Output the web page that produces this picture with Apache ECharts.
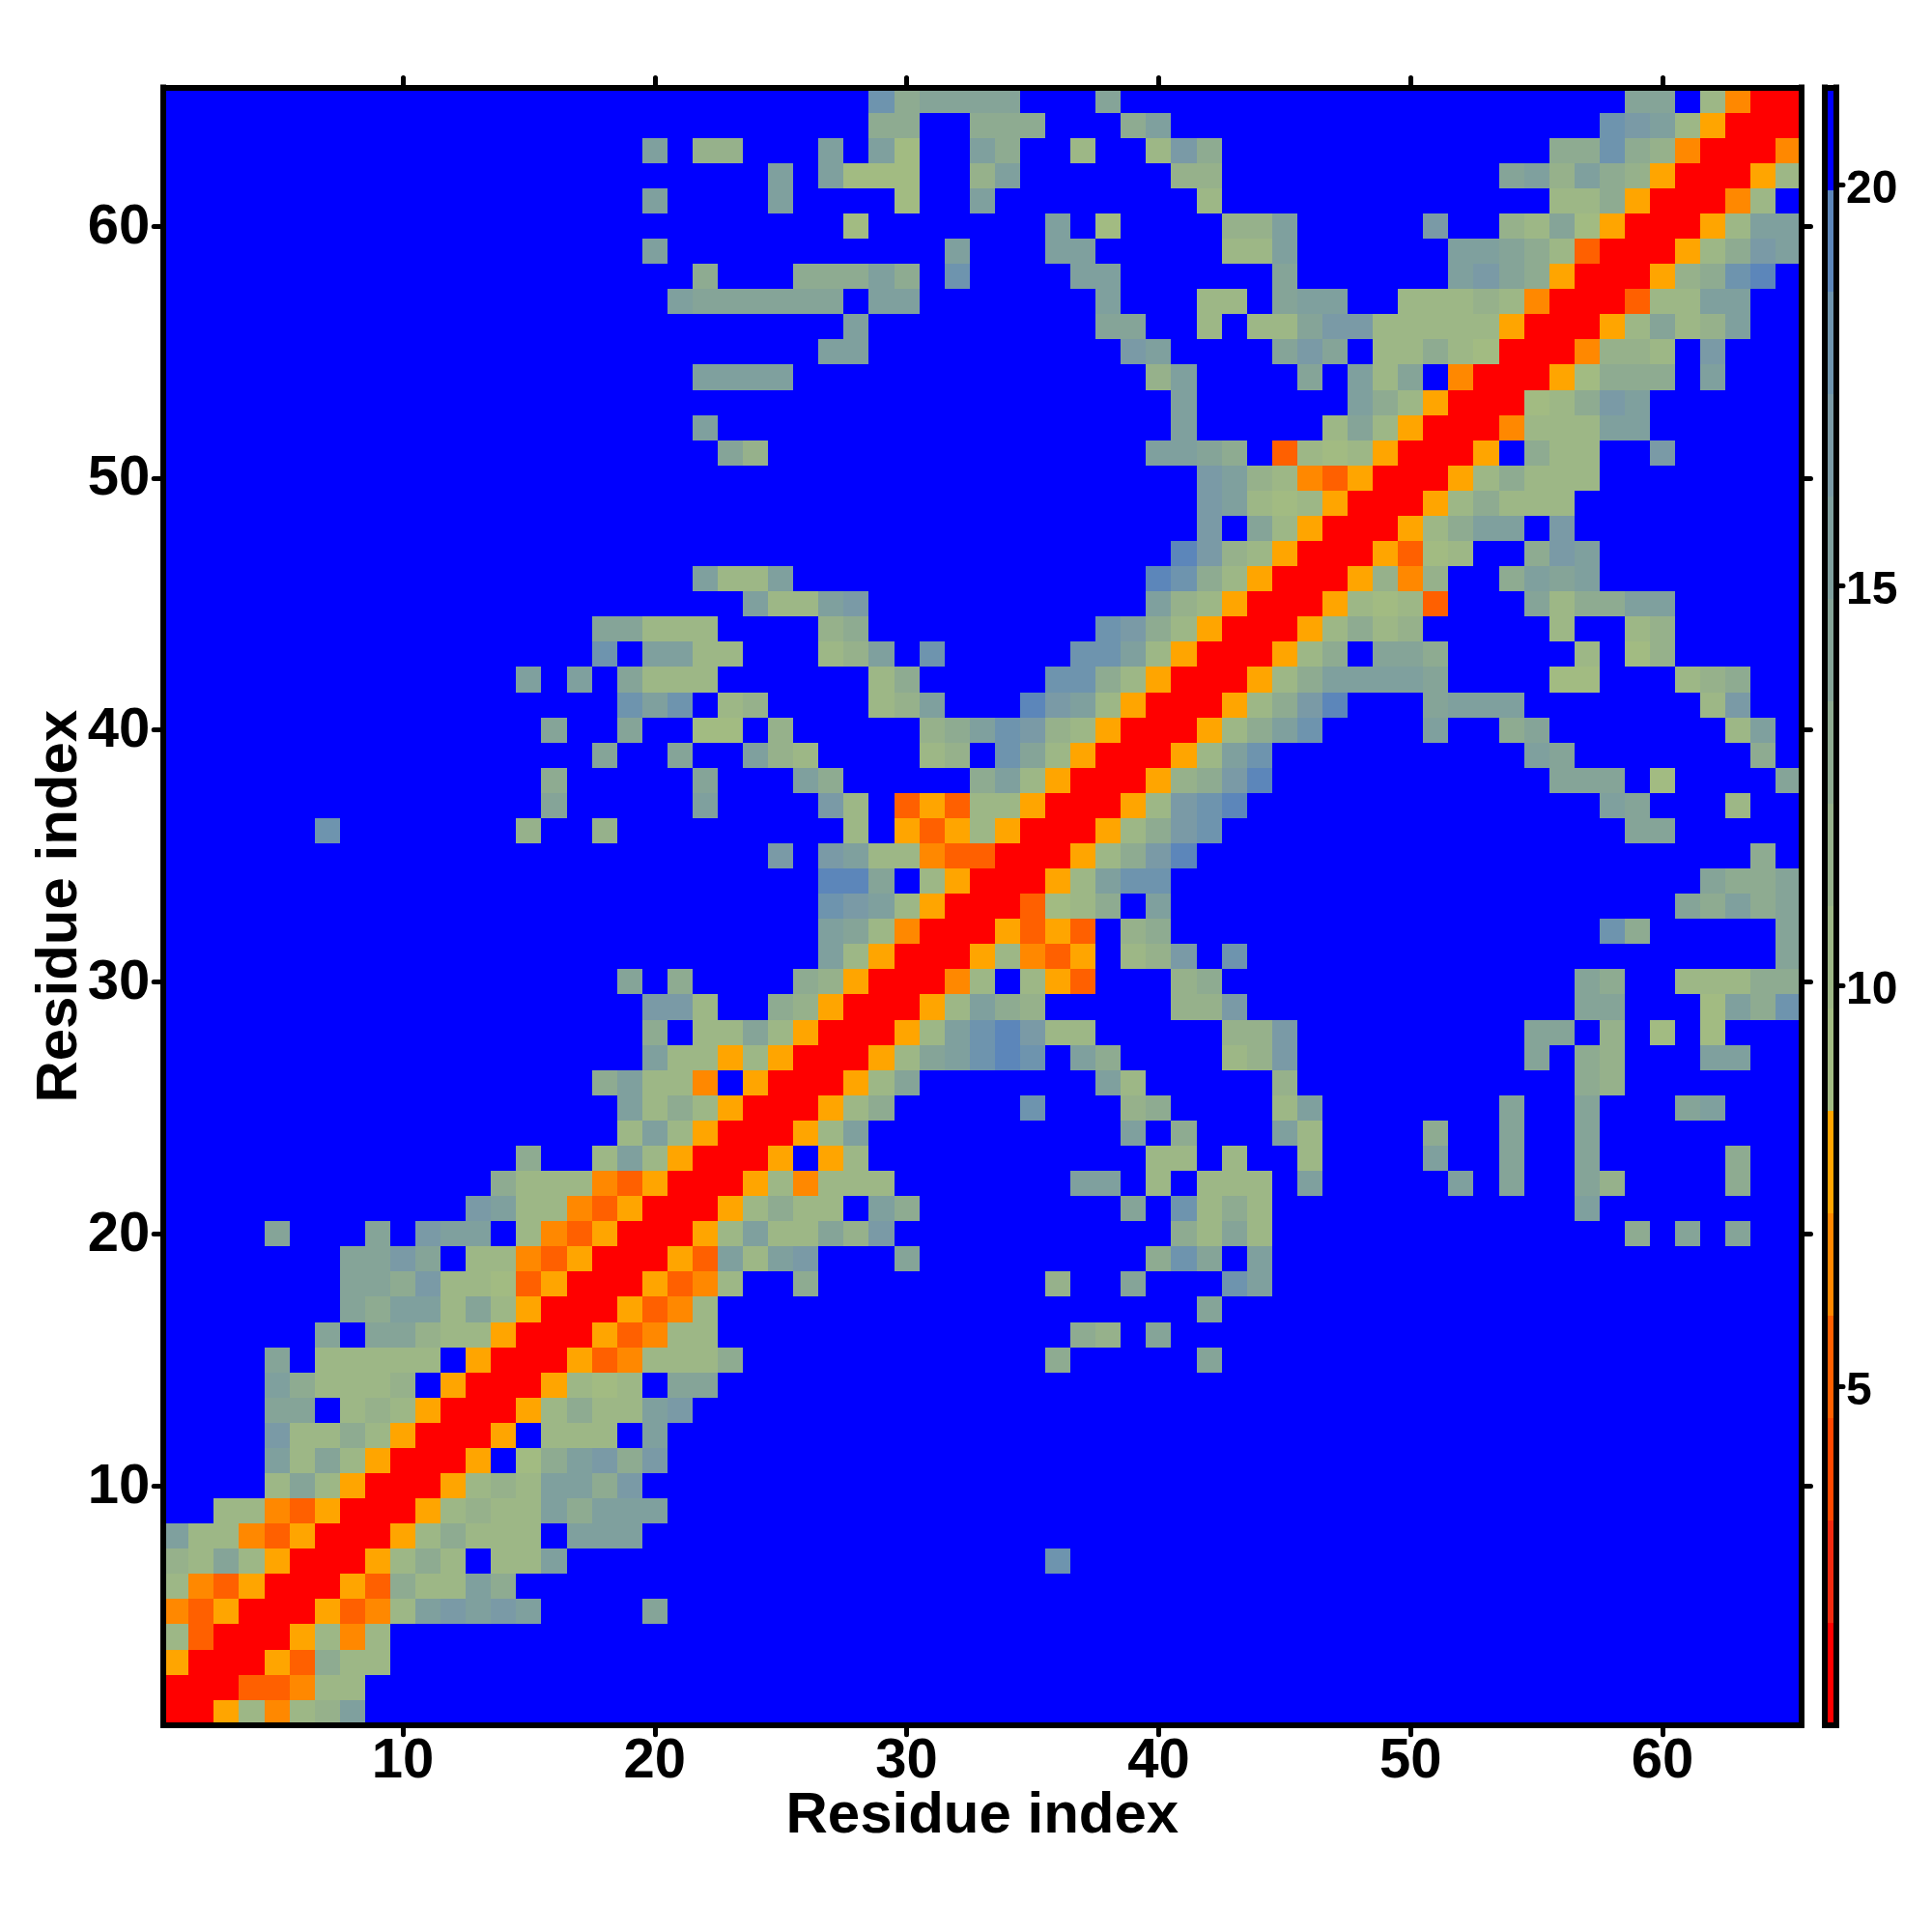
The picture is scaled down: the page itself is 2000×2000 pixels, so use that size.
<!DOCTYPE html>
<html><head><meta charset="utf-8">
<style>html,body{margin:0;padding:0;background:#fff}#c{width:2000px;height:2000px}</style>
<script src="https://cdn.jsdelivr.net/npm/echarts@6/dist/echarts.min.js"></script>
</head><body><div id="c"></div>
<script>
// Residue indices
const residues = Array.from({length:65},(_,i)=>String(i+1));
const tickEvery = 10;
const colorbarTicks = [5,10,15,20];
// Distance scale: 16 bins
const scaleMin = 0.77, scaleMax = 21.22;
const binColors = ['#ff0000','#f22a10','#ff4800','#ff6000','#ff8800','#ffa500',
  '#a2bb82','#9db786','#96b18b','#8eab91','#85a498','#7fa09e','#7a9aa6','#6e94ae','#5c86ba','#0000ff'];
// Cell characters: bin number per cell (1-9,a-f), '.' = beyond the last bin
const binChars = '123456789abcdef.';
// Rows from residue 65 (top) to residue 1 (bottom); groups of ten columns
const rowsTopDown = [
".......... .......... ........ea bbbb...b.. .......... ........bb .8511",
".......... .......... ........aa ..aaa...ac .......... .......edc 86111",
".......... .........c .99...c.c7 ..ca..8..8 da........ .....aaea9 51115",
".......... .......... ....c.c777 ..9c...... 99........ ...bc9ca96 11168",
".......... .........c ....c....7 ..c....... .8........ .....88a61 1158.",
".......... .......... .......7.. .....c.7.. ..99c..... d..98b7611 168cc",
".......... .........c .......... .c...cc... ..88c..... .ccba84111 68adc",
".......... .......... .a...aaaca .e....cc.. ....b..... .cdba61116 9aef.",
".......... .......... cbbbbbb.cc .......c.. .88.bcc..8 8898511148 8cc..",
".......... .......... .......c.. .......bb. .8.88bdd88 888611168b 89c..",
".......... .......... ......cc.. ........dc ....bdb.88 a871115998 .d...",
".......... .......... .cccc..... .........9 c....b.c8b .511167aaa .c...",
".......... .......... .......... .......... c......ca8 611178adc. .....",
".......... .......... .c........ .......... c.....8b86 1115888cc. .....",
".......... .......... ..b9...... .........c cba.487861 116.a88..d .....",
".......... .......... .......... .......... .dc9854611 168a888... .....",
".......... .......... .......... .......... .dc8786111 68a888.... .....",
".......... .......... .......... .......... .d.b861116 8acc.d.... .....",
".......... .......... .......... .......... fd98611164 78..adc... .....",
".......... .......... .c88c..... .........f ea86111695 9..acbc... .....",
".......... .......... ...c88cd.. .........c 9861116878 4...b8aacc .....",
".......... .......bb8 88....9a.. .......eda 8611168a89 .....8..89 .....",
".......... .......e.c c88...89c. e.....eec8 611168a.bb a.....8.79 .....",
".......... ....c.c.b8 88......8a .....eea86 11168acccc b....77... 89a..",
".......... ........ec e.89....89 c...fdc861 1168adf... bccc...... .8d..",
".......... .....b..b. .77.9..... 9aced98611 168ace.... c..ab..... ..8c.",
".......... .......b.. b..c98.... 89.eb86111 68ce...... ....cb.... ...a.",
".......... .....a.... .b...ca... ..ac861116 9adf...... .....bbb.7 ....b",
".......... .....b.... .c....d8.4 6488611168 def....... .......cb. ..8..",
"......e... ....9..9.. .......8.6 468611168a de........ ........bb .....",
".......... .......... ....d.dc88 54411168ad f......... .......... ...a.",
".......... .......... ......ffb. 8611168cee .......... .......... .baab",
".......... .......... ......edc8 6111478a.c .......... .......... bacab",
".......... .......... ......cb85 1116464.9a .......... .......ea. ....b",
".......... .......... ......c861 1168546.89 d.e....... .......... ....b",
".......... ........b. a....a9611 158.864... 9a........ ......ba.. 888aa",
".......... .........d d8..a96111 68ca9..... 99d....... ......bb.. .7cae",
".......... .........a .88b861116 8cefd88... ..99d..... ....bb.9.7 .7...",
".......... .........c 8868611168 bcefe.ca.. ..89d..... ....b.a9.. .cc..",
".......... .......ac8 85.611168b .......c8. ....9..... ......a9.. .....",
".......... ........c8 a8611168a. ....e...9a ....8c.... ...b..b... bc...",
".......... ........8c 8611168c.. ........c. a...c8.... a..b..b... .....",
".......... ....a..8c8 61116.68.. .........8 8.8..8.... c..b..b... ..a..",
".......... ...a888546 111685888. ......cc.8 .888.c.... .c.b..b9.. ..a..",
".......... ..dc885461 1168a88.ca ........b. e8a8...... ......c... .....",
"....b...b. dcc.854611 168c88b9d. .......... a8b8...... ........a. b.b..",
".......bbd b.88546111 64c8cd...b .........a eb.c...... .......... .....",
".......bba d887461116 458..a.... .....9..b. ..ec...... .......... .....",
".......bac c8b8611164 58........ .......... .b........ .......... .....",
"......b.bb 9886111645 88........ ......a9.b .......... .......... .....",
"....b.8888 8.61116458 88a....... .....a.... .b........ .......... .....",
"....ca8889 .61116878. bb........ .......... .......... .......... .....",
"....bb.898 611168a88c d......... .......... .......... .......... .....",
"....d88a86 1116.888.c .......... .......... .......... .......... .....",
"....c8b861 116.7acdad .......... .......... .......... .......... .....",
"....8b8611 16898ccad. .......... .......... .......... .......... .....",
"..88546111 68988caccc .......... .......... .......... .......... .....",
"c885461116 8a888.ccc. .......... .......... .......... .......... .....",
"98b8611168 a8.88c.... .......... .....e.... .......... .......... .....",
"854611164a 88ca...... .......... .......... .......... .......... .....",
"5461116458 cdcdc....b .......... .......... .......... .......... .....",
"841116858. .......... .......... .......... .......... .......... .....",
"611164a88. .......... .......... .......... .......... .......... .....",
"11144588.. .......... .......... .......... .......... .......... .....",
"1168589c.. .......... .......... .......... .......... .......... ....."
];

const binWidth = (scaleMax-scaleMin)/binColors.length;
const cells = [];
rowsTopDown.forEach((row,ri)=>{
  const y = rowsTopDown.length-1-ri;
  row.replace(/ /g,'').split('').forEach((ch,x)=>{
    const bin = binChars.indexOf(ch);
    cells.push([x,y,+(scaleMin+(bin+0.5)*binWidth).toFixed(2)]);
  });
});
const bins = binColors.map((c,i)=>[scaleMin+i*binWidth, scaleMin+(i+1)*binWidth, i]);

const font = '"Liberation Sans", Arial, sans-serif';
const black = '#000';
const frame = w => ({show:true,onZero:false,lineStyle:{color:black,width:w,cap:'square'}});
const isTick = (i,v)=> +v % tickEvery === 0;
const plotBox = {left:169.2, top:90.6, width:1695.3, height:1695.2};
const tick = {show:true,inside:false,length:10,alignWithLabel:true,interval:isTick,
  lineStyle:{color:black,width:5,cap:'round'}};
const bigLabel = {show:true,interval:isTick,color:black,fontFamily:font,fontWeight:'bold',fontSize:58};
const titleStyle = {color:black,fontFamily:font,fontWeight:'bold',fontSize:60};

const chart = echarts.init(document.getElementById('c'),null,{renderer:'canvas',width:2000,height:2000});
chart.setOption({
  animation:false,
  backgroundColor:'#fff',
  grid:[
    Object.assign({containLabel:false},plotBox),
    {left:1889, top:plotBox.top, width:12, height:plotBox.height, containLabel:false}
  ],
  xAxis:[
    {gridIndex:0,type:'category',data:residues,position:'bottom',z:10,axisLine:frame(6),axisTick:tick,
     axisLabel:Object.assign({margin:9},bigLabel),splitLine:{show:false},
     name:'Residue index',nameLocation:'middle',nameGap:65,nameMoveOverlap:false,nameTextStyle:titleStyle},
    {gridIndex:0,type:'category',data:residues,position:'top',z:10,axisLine:frame(6),axisTick:tick,
     axisLabel:{show:false},splitLine:{show:false}},
    {gridIndex:1,type:'value',min:0,max:1,position:'bottom',z:10,axisLine:frame(6),axisTick:{show:false},axisLabel:{show:false},splitLine:{show:false}},
    {gridIndex:1,type:'value',min:0,max:1,position:'top',z:10,axisLine:frame(6),axisTick:{show:false},axisLabel:{show:false},splitLine:{show:false}}
  ],
  yAxis:[
    {gridIndex:0,type:'category',data:residues,position:'left',z:10,axisLine:frame(6),axisTick:tick,
     axisLabel:Object.assign({margin:14,formatter:'{t|{value}}',rich:{t:{padding:[3,0,0,0],color:black,fontFamily:font,fontWeight:'bold',fontSize:58}}},bigLabel),splitLine:{show:false},
     name:'Residue index',nameLocation:'middle',nameGap:77,nameMoveOverlap:false,nameRotate:90,nameTextStyle:titleStyle},
    {gridIndex:0,type:'category',data:residues,position:'right',z:10,axisLine:frame(6),axisTick:tick,
     axisLabel:{show:false},splitLine:{show:false}},
    {gridIndex:1,type:'value',min:scaleMin,max:scaleMax,position:'right',z:10,axisLine:frame(6),
     axisTick:{show:true,length:7,customValues:colorbarTicks,lineStyle:{color:black,width:5,cap:'round'}},
     axisLabel:{show:true,customValues:colorbarTicks,margin:10,formatter:'{t|{value}}',
       rich:{t:{padding:[11,0,0,0],color:black,fontFamily:font,fontWeight:'bold',fontSize:48}},
       color:black,fontFamily:font,fontWeight:'bold',fontSize:48},
     splitLine:{show:false}},
    {gridIndex:1,type:'value',min:scaleMin,max:scaleMax,position:'left',z:10,axisLine:frame(6),axisTick:{show:false},axisLabel:{show:false},splitLine:{show:false}}
  ],
  visualMap:{type:'piecewise',show:false,seriesIndex:0,dimension:2,
    pieces:bins.map(b=>({gte:b[0],lt:b[1],color:binColors[b[2]]}))},
  series:[
    {type:'custom',coordinateSystem:'cartesian2d',xAxisIndex:0,yAxisIndex:0,data:cells,silent:true,progressive:0,
     encode:{x:0,y:1},
     renderItem:(p,api)=>{
       const c=api.coord([api.value(0),api.value(1)]), s=api.size([1,1]);
       const x0=Math.round(c[0]-s[0]/2), x1=Math.round(c[0]+s[0]/2);
       const y0=Math.round(c[1]-s[1]/2), y1=Math.round(c[1]+s[1]/2);
       return {type:'rect',shape:{x:x0,y:y0,width:x1-x0,height:y1-y0},style:{fill:api.visual('color')}};
     }},
    {type:'custom',xAxisIndex:2,yAxisIndex:2,data:bins,silent:true,
     renderItem:(p,api)=>{
       const a=api.coord([0,api.value(0)]), b=api.coord([1,api.value(1)]);
       const y0=Math.round(b[1]), y1=Math.round(a[1]);
       return {type:'rect',shape:{x:a[0],y:y0,width:b[0]-a[0],height:y1-y0},
         style:{fill:binColors[api.value(2)]}};
     }}
  ]
});
</script></body></html>
